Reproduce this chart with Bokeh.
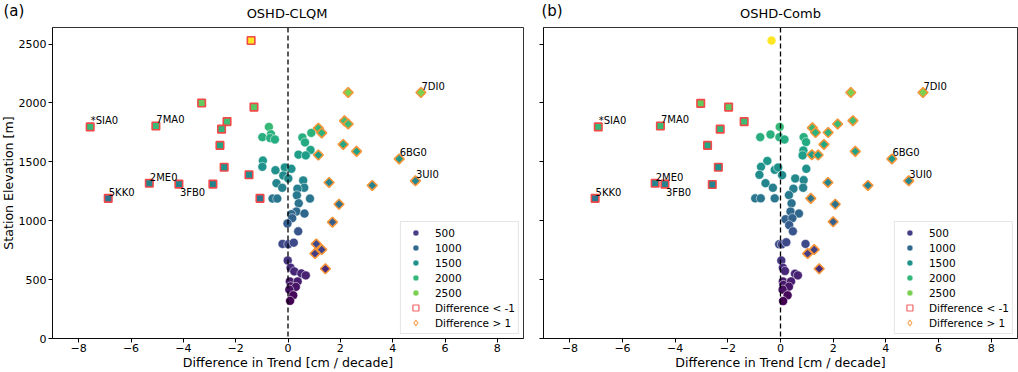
import math
from bokeh.plotting import figure
from bokeh.models import (ColumnDataSource, Span, Label, Legend, LegendItem,
                          FixedTicker, CustomJSTickFormatter, Range1d, CDSView, BooleanFilter)
from bokeh.layouts import row, column
from bokeh.transform import linear_cmap
from bokeh.palettes import Viridis256
from bokeh.embed import file_html
from bokeh.resources import INLINE

FONT = "DejaVu Sans"

# ---------------- data ----------------
stations = ["*SIA0", "7MA0", "2ME0", "3FB0", "5KK0", "7DI0", "6BG0", "3UI0"]

# Panel (a) OSHD-CLQM : difference in trend [cm/decade] and station elevation [m]
diff_a = [
    -7.56, -5.05, -5.30, -4.17, -6.87, 5.08, 4.25, 4.87,
    -1.41, -3.30, -1.30, -2.33, -2.54, -0.73, -0.65, -0.98, -0.68, -0.50, -2.60, -2.44, -1.49, -2.87, -1.07,
    -0.96, -0.98, -0.48, -0.12, 0.13, -0.18, 0.01, -0.44, -0.22, -0.59, -0.41, 0.58, 0.62, 0.36, 0.34, 0.84,
    0.41, 0.32, 0.63, 0.13, 0.16, -0.02,
    0.55, 0.89, 0.65, 0.86, 0.40, 0.68,
    1.16, 1.29, 2.16, 2.30, 2.11, 2.62, 1.16, 1.57, 1.95, 1.70, 3.22, 2.30,
    0.39, -0.21, 0.01, 0.22, 1.08, 1.29, 1.03, 1.43, -0.01, 0.10, 0.24, 0.51, 0.68, 0.07, 0.37, 0.10, 0.30,
    0.05, 0.20, 0.08]
elev_a = [
    1797, 1805, 1319, 1311, 1190, 2089, 1525, 1339,
    2530, 2000, 1965, 1842, 1778, 1797, 1735, 1710, 1702, 1690, 1640, 1454, 1390, 1311, 1190,
    1511, 1458, 1429, 1452, 1441, 1384, 1359, 1319, 1280, 1188, 1188, 1342, 1280, 1272, 1216, 1188,
    1148, 1078, 1061, 1056, 1022, 977,
    1707, 1746, 1665, 1601, 1561, 1555,
    1786, 1746, 1848, 1822, 1648, 1589, 1558, 1325, 1140, 988, 1300, 2089,
    910, 803, 800, 814, 803, 755, 721, 592, 662, 601, 570, 553, 536, 485, 485, 443, 438,
    415, 367, 320]

# Panel (b) OSHD-Comb
diff_b = [
    -6.92, -4.56, -4.76, -4.39, -7.04, 5.41, 4.23, 4.87,
    -0.34, -3.03, -1.97, -1.38, -2.29, -2.77, -2.36, -2.59,
    -0.03, -0.77, -0.38, -0.04, 0.15, 0.88, 0.97, 0.87, 0.84,
    1.21, 1.33, 2.17, 2.75, 1.81, 1.65, 2.84, 1.19, 1.43, 1.80, 1.15, 2.08, 2.00,
    -0.50, -0.74, -0.80, -0.22, -0.09, 0.06, 0.98, -0.57, -0.29, 0.56, 0.88, 0.49, 0.86, -0.96, -0.75,
    -0.22, 0.32, 0.42, 0.38, 0.70, 0.19, 0.45, 0.33, 0.47,
    2.67, 3.32,
    -0.05, 0.05, 0.22, 0.95, 1.28, 1.03, 1.47, 0.03, 0.09, 0.17, 0.55, 0.66, 0.09, 0.40, 0.11, 0.32,
    0.08, 0.27, 0.10]
elev_b = [
    1797, 1805, 1319, 1311, 1190, 2089, 1525, 1339,
    2530, 1997, 1965, 1842, 1778, 1640, 1454, 1308,
    1797, 1710, 1732, 1710, 1690, 1710, 1668, 1597, 1555,
    1789, 1749, 1822, 1850, 1749, 1648, 1589, 1561, 1558, 1325, 1190, 1140, 991,
    1508, 1458, 1390, 1432, 1452, 1387, 1441, 1319, 1280, 1359, 1345, 1272, 1280, 1190, 1190,
    1190, 1218, 1148, 1078, 1061, 1013, 1022, 963, 910,
    2089, 1300,
    800, 800, 817, 803, 755, 721, 592, 662, 601, 573, 550, 536, 485, 485, 455, 440,
    415, 367, 318]

x_ticks = [-8, -6, -4, -2, 0, 2, 4, 6, 8]
x_tick_labels = ["\u22128", "\u22126", "\u22124", "\u22122", "0", "2", "4", "6", "8"]
y_ticks = [0, 500, 1000, 1500, 2000, 2500]
legend_levels = [500, 1000, 1500, 2000, 2500]
legend_marks = ["Difference < -1", "Difference > 1"]
panel_tags = ["(a)", "(b)"]
panel_titles = ["OSHD-CLQM", "OSHD-Comb"]
y_label = "Station Elevation [m]"
x_label = "Difference in Trend [cm / decade]"

# -------------- styling / layout --------------
LEGEND_COLORS = ["#433e85", "#31688e", "#21918c", "#35b779", "#7ad151"]
RED = "#f24848"
ORANGE = "#f7953a"
TOTAL_W = 1018
HEAD_H = 26
MAIN_H = 372 - HEAD_H
YLAB_W = 15
W1, MBL1, MBR1 = 533 - YLAB_W, 35, 10
W2, MBL2, MBR2 = 485, 10, 1
MB_TOP, MB_BOT = 1, 32
Y_MAX = 2641
NAN = float("nan")


def bare_figure(width, height, xr, yr, mbt=0, mbb=0):
    f = figure(width=width, height=height, x_range=xr, y_range=yr, output_backend="svg",
               toolbar_location=None, min_border_left=0, min_border_right=0,
               min_border_top=mbt, min_border_bottom=mbb, x_axis_type=None, y_axis_type=None)
    f.outline_line_color = None
    f.xgrid.visible = False
    f.ygrid.visible = False
    return f


def make_header():
    h = bare_figure(TOTAL_W, HEAD_H, Range1d(0, TOTAL_W), Range1d(0, HEAD_H))
    frame_centers = [YLAB_W + MBL1 + (W1 - MBL1 - MBR1) / 2,
                     YLAB_W + W1 + MBL2 + (W2 - MBL2 - MBR2) / 2]
    tag_left = [3, YLAB_W + W1 + 8]
    for tag, title, cx, tx in zip(panel_tags, panel_titles, frame_centers, tag_left):
        h.add_layout(Label(x=cx, y=HEAD_H - 13, text=title, text_align="center",
                           text_baseline="middle", text_font=FONT, text_font_size="13px",
                           text_color="black"))
        h.add_layout(Label(x=tx, y=HEAD_H - 10.5, text=tag, text_align="left",
                           text_baseline="middle", text_font=FONT, text_font_size="15px",
                           text_color="black"))
    return h


def make_ylabel():
    f = bare_figure(YLAB_W, MAIN_H, Range1d(0, YLAB_W), Range1d(0, Y_MAX), MB_TOP, MB_BOT)
    f.add_layout(Label(x=7.5, y=Y_MAX / 2, text=y_label, angle=math.pi / 2,
                       text_align="center", text_baseline="middle", text_font=FONT,
                       text_font_size="12.6px", text_color="black"))
    return f


def make_panel(diff, elev, first, width, mbl, mbr):
    p = figure(width=width, height=MAIN_H, x_range=Range1d(-9, 9), y_range=Range1d(0, Y_MAX),
               output_backend="svg", toolbar_location=None,
               min_border_left=mbl, min_border_right=mbr, min_border_top=MB_TOP,
               min_border_bottom=MB_BOT)
    p.xgrid.visible = False
    p.ygrid.visible = False
    p.outline_line_color = "black"
    p.outline_line_alpha = 0.8
    p.outline_line_width = 1
    p.background_fill_color = "white"
    p.border_fill_color = "white"

    for ax in (p.xaxis[0], p.yaxis[0]):
        ax.axis_line_color = "black"
        ax.axis_line_alpha = 0.8
        ax.major_tick_line_color = "black"
        ax.major_tick_in = 0
        ax.major_tick_out = 4
        ax.minor_tick_line_color = None
        ax.major_label_text_font = FONT
        ax.major_label_text_font_size = "11px"
        ax.major_label_text_color = "black"
        ax.major_label_standoff = 2
        ax.axis_label_text_font = FONT
        ax.axis_label_text_font_size = "12.6px"
        ax.axis_label_text_font_style = "normal"
        ax.axis_label_text_color = "black"
        ax.axis_label_standoff = 0
    p.xaxis.major_label_standoff = 1
    p.xaxis.ticker = FixedTicker(ticks=x_ticks)
    p.xaxis.major_label_overrides = {t: l for t, l in zip(x_ticks, x_tick_labels)}
    p.xaxis.axis_label = x_label
    p.yaxis.ticker = FixedTicker(ticks=y_ticks)
    if not first:
        p.yaxis.formatter = CustomJSTickFormatter(code="return ''")

    names = stations + [""] * (len(diff) - len(stations))
    src = ColumnDataSource(dict(x=diff, y=elev, name=names))
    low = [d < -1 for d in diff]
    high = [d > 1 for d in diff]
    mid = [not (a or b) for a, b in zip(low, high)]
    cmap = linear_cmap("y", Viridis256, 318, 2530)

    p.scatter("x", "y", source=src, view=CDSView(filter=BooleanFilter(mid)), marker="circle",
              size=9, fill_color=cmap, line_color="white", line_width=0.5)
    p.scatter("x", "y", source=src, view=CDSView(filter=BooleanFilter(low)), marker="square",
              size=7.5, fill_color=cmap, line_color=RED, line_width=1.6)
    p.scatter("x", "y", source=src, view=CDSView(filter=BooleanFilter(high)), marker="square",
              angle=math.pi / 4, size=7, fill_color=cmap, line_color=ORANGE, line_width=1.6)

    p.add_layout(Span(location=0, dimension="height", line_color="black", line_width=1.3,
                      line_dash="5 3"))

    above = [n != "" and n != "3FB0" for n in names]
    below = [n == "3FB0" for n in names]
    p.text("x", "y", text="name", source=src, view=CDSView(filter=BooleanFilter(above)),
           text_font={"value": FONT}, text_font_size="10px", text_color="black",
           text_align="left", text_baseline="middle", x_offset=0.5, y_offset=-6)
    p.text("x", "y", text="name", source=src, view=CDSView(filter=BooleanFilter(below)),
           text_font={"value": FONT}, text_font_size="10px", text_color="black",
           text_align="left", text_baseline="middle", x_offset=1, y_offset=8)

    items = []
    for lvl, c in zip(legend_levels, LEGEND_COLORS):
        r = p.scatter(x=[NAN], y=[NAN], marker="circle", size=7.5, fill_color=c,
                      line_color="white", line_width=0.5)
        items.append(LegendItem(label=str(lvl), renderers=[r]))
    r_low = p.scatter(x=[NAN], y=[NAN], marker="square", size=8, fill_color=None,
                      line_color=RED, line_width=1.2, line_alpha=0.85)
    items.append(LegendItem(label=legend_marks[0], renderers=[r_low]))
    r_high = p.scatter(x=[NAN], y=[NAN], marker="diamond", size=16, fill_color=None,
                       line_color=ORANGE, line_width=1.2, line_alpha=0.85)
    items.append(LegendItem(label=legend_marks[1], renderers=[r_high]))
    leg = Legend(items=items, location="bottom_right", margin=4, padding=3,
                 glyph_height=15, glyph_width=23, label_height=15, label_standoff=8, spacing=0,
                 label_text_font=FONT, label_text_font_size="10.5px", label_text_color="black",
                 border_line_color="#cccccc", border_line_width=1, background_fill_alpha=0.85)
    p.add_layout(leg)
    return p


header = make_header()
ylab = make_ylabel()
p1 = make_panel(diff_a, elev_a, True, W1, MBL1, MBR1)
p2 = make_panel(diff_b, elev_b, False, W2, MBL2, MBR2)
layout = column(header, row(ylab, p1, p2))

open("out.html", "w").write(file_html(layout, INLINE))
